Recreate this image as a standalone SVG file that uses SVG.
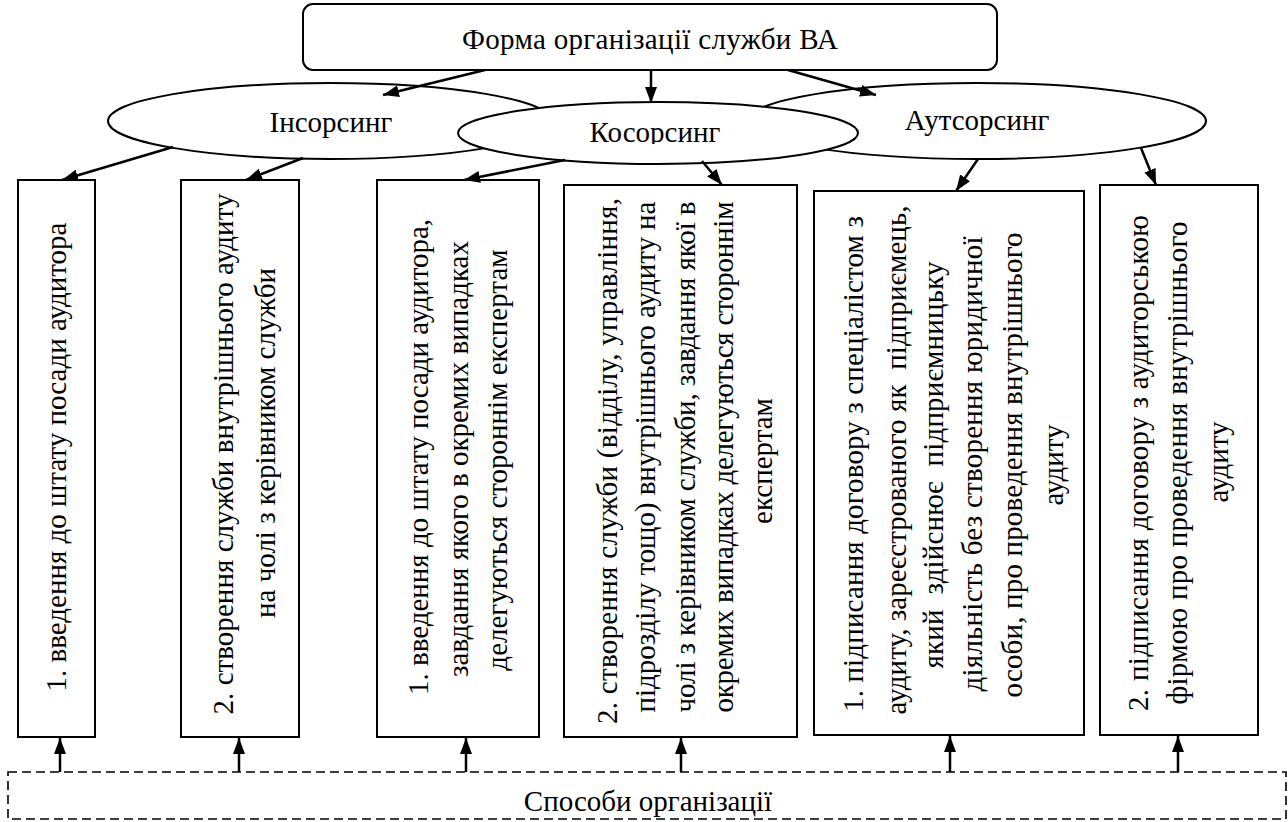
<svg xmlns="http://www.w3.org/2000/svg" width="1288" height="822" viewBox="0 0 1288 822">
<style>
text{font-family:"Liberation Serif","Times New Roman","DejaVu Serif",serif;font-size:29px;fill:#000}
.box{fill:#fff;stroke:#000;stroke-width:2}
.ell{fill:#fff;stroke:#000;stroke-width:2}
.con{stroke:#000;stroke-width:2.5;fill:none;marker-end:url(#ah)}
.mid{text-anchor:middle}
</style>
<defs>
<marker id="ah" markerUnits="userSpaceOnUse" markerWidth="16" markerHeight="12" refX="16" refY="6" orient="auto">
<path d="M0,0 L16,6 L0,12 z" fill="#000"/>
</marker>
<clipPath id="kclip"><rect x="540" y="100" width="240" height="44"/></clipPath>
</defs>
<rect width="1288" height="822" fill="#fff"/>

<g id="top">
<rect class="box" x="303" y="4" width="694" height="66" rx="10"/>
<text class="mid" x="650" y="49" textLength="376" lengthAdjust="spacing">Форма організації служби ВА</text>
</g>

<g id="insourcing">
<ellipse class="ell" cx="330" cy="121" rx="222" ry="38"/>
<text class="mid" x="331" y="132">Інсорсинг</text>
</g>
<g id="outsourcing">
<ellipse class="ell" cx="977" cy="121" rx="229" ry="38"/>
<text class="mid" x="977" y="130">Аутсорсинг</text>
</g>
<g id="cosourcing">
<ellipse class="ell" cx="658" cy="133" rx="200" ry="31"/>
<text class="mid" x="655" y="142" clip-path="url(#kclip)">Косорсинг</text>
</g>

<g id="b1">
<rect class="box" x="18" y="180" width="77" height="557"/>
<text class="mid" transform="translate(66,457) rotate(-90)">1. введення до штату посади аудитора</text>
</g>
<g id="b2">
<rect class="box" x="181" y="180" width="118" height="557"/>
<text class="mid" transform="translate(233,454) rotate(-90)" textLength="521" lengthAdjust="spacing">2. створення служби внутрішнього аудиту</text>
<text class="mid" transform="translate(275,443) rotate(-90)">на чолі з керівником служби</text>
</g>
<g id="b3">
<rect class="box" x="377" y="180" width="162" height="557"/>
<text class="mid" transform="translate(428,457) rotate(-90)">1. введення до штату посади аудитора,</text>
<text class="mid" transform="translate(468,459) rotate(-90)">завдання якого в окремих випадках</text>
<text class="mid" transform="translate(507,460) rotate(-90)">делегуються стороннім експертам</text>
</g>
<g id="b4">
<rect class="box" x="564" y="185" width="233" height="552"/>
<text class="mid" transform="translate(617,461) rotate(-90)" textLength="526" lengthAdjust="spacing">2. створення служби (відділу, управління,</text>
<text class="mid" transform="translate(655,457) rotate(-90)" textLength="511" lengthAdjust="spacing">підрозділу тощо) внутрішнього аудиту на</text>
<text class="mid" transform="translate(695,457) rotate(-90)" textLength="511" lengthAdjust="spacing">чолі з керівником служби, завдання якої в</text>
<text class="mid" transform="translate(733,457) rotate(-90)" textLength="511" lengthAdjust="spacing">окремих випадках делегуються стороннім</text>
<text class="mid" transform="translate(772,461) rotate(-90)">експертам</text>
</g>
<g id="b5">
<rect class="box" x="814" y="191" width="270" height="544"/>
<text class="mid" transform="translate(863,464) rotate(-90)" textLength="496" lengthAdjust="spacing">1. підписання договору з спеціалістом з</text>
<text class="mid" xml:space="preserve" transform="translate(906,460) rotate(-90)" textLength="509" lengthAdjust="spacing">аудиту, зареєстрованого як  підприємець,</text>
<text class="mid" xml:space="preserve" transform="translate(943,465) rotate(-90)" textLength="407" lengthAdjust="spacing">який  здійснює  підприємницьку</text>
<text class="mid" transform="translate(982,464) rotate(-90)" textLength="455" lengthAdjust="spacing">діяльність без створення юридичної</text>
<text class="mid" transform="translate(1022,465) rotate(-90)" textLength="465" lengthAdjust="spacing">особи, про проведення внутрішнього</text>
<text class="mid" transform="translate(1063,465) rotate(-90)">аудиту</text>
</g>
<g id="b6">
<rect class="box" x="1100" y="185" width="158" height="550"/>
<text class="mid" transform="translate(1148,463) rotate(-90)" textLength="496" lengthAdjust="spacing">2. підписання договору з аудиторською</text>
<text class="mid" transform="translate(1187,463) rotate(-90)" textLength="483" lengthAdjust="spacing">фірмою про проведення внутрішнього</text>
<text class="mid" transform="translate(1228,462) rotate(-90)">аудиту</text>
</g>

<g id="methods">
<rect x="8" y="772" width="1278" height="47" fill="none" stroke="#000" stroke-width="1.6" stroke-dasharray="9 5"/>
<text class="mid" x="648" y="811">Способи організації</text>
</g>

<g id="connectors">
<line class="con" x1="485" y1="70" x2="383" y2="95"/>
<line class="con" x1="651" y1="70" x2="651" y2="103"/>
<line class="con" x1="788" y1="70" x2="876" y2="95"/>
<line class="con" x1="173" y1="147" x2="62" y2="180"/>
<line class="con" x1="303" y1="158" x2="246" y2="180"/>
<line class="con" x1="565" y1="160" x2="464" y2="180"/>
<line class="con" x1="702" y1="161" x2="722" y2="185"/>
<line class="con" x1="978" y1="159" x2="956" y2="191"/>
<line class="con" x1="1141" y1="148" x2="1156" y2="185"/>
<line class="con" x1="60" y1="772" x2="60" y2="738"/>
<line class="con" x1="239" y1="772" x2="239" y2="738"/>
<line class="con" x1="466" y1="772" x2="466" y2="738"/>
<line class="con" x1="681" y1="772" x2="681" y2="738"/>
<line class="con" x1="950" y1="772" x2="950" y2="736"/>
<line class="con" x1="1178" y1="772" x2="1178" y2="736"/>
</g>
</svg>
